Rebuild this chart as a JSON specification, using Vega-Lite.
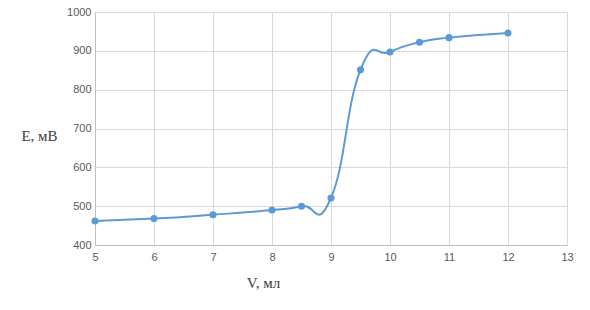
{
  "$schema": "https://vega.github.io/schema/vega-lite/v6.json",
  "autosize": "none",
  "width": 472,
  "height": 233,
  "padding": {"left": 95, "top": 12, "right": 23, "bottom": 65},
  "background": "white",
  "config": {"view": {"stroke": null}},
  "data": {"values": [
    {"V": 5, "E": 462},
    {"V": 6, "E": 468},
    {"V": 7, "E": 478},
    {"V": 8, "E": 490},
    {"V": 8.5, "E": 500},
    {"V": 9, "E": 521},
    {"V": 9.5, "E": 851},
    {"V": 10, "E": 897},
    {"V": 10.5, "E": 922},
    {"V": 11, "E": 934},
    {"V": 12, "E": 946}
  ]},
  "encoding": {
    "x": {"field": "V", "type": "quantitative",
      "scale": {"domain": [5, 13], "nice": false, "zero": false},
      "axis": {"values": [5,6,7,8,9,10,11,12,13], "title": "V, мл", "grid": true, "gridColor": "#d9d9d9",
        "domainColor": "#bfbfbf", "ticks": false, "labelPadding": 6, "labelFlush": false,
        "labelFont": "Liberation Sans", "labelFontSize": 11, "labelColor": "#595959",
        "titleFont": "Liberation Serif", "titleFontSize": 15, "titleFontWeight": "normal", "titleColor": "#404040",
        "titleX": 168, "titleY": 37, "titleBaseline": "middle", "titleAnchor": null}},
    "y": {"field": "E", "type": "quantitative",
      "scale": {"domain": [400, 1000], "nice": false, "zero": false},
      "axis": {"values": [400,500,600,700,800,900,1000], "format": "d", "title": "E, мВ", "grid": true, "gridColor": "#d9d9d9",
        "domainColor": "#bfbfbf", "ticks": false, "labelPadding": 4, "labelFlush": false,
        "labelFont": "Liberation Sans", "labelFontSize": 11, "labelColor": "#595959",
        "titleFont": "Liberation Serif", "titleFontSize": 15, "titleFontWeight": "normal", "titleColor": "#404040",
        "titleAngle": 0, "titleX": -56, "titleY": 123, "titleAlign": "center", "titleBaseline": "middle"}}
  },
  "layer": [
    {"mark": {"type": "line", "interpolate": "cardinal", "tension": -0.5, "color": "#5b9bd5", "strokeWidth": 2}},
    {"mark": {"type": "point", "filled": true, "opacity": 1, "color": "#5b9bd5", "size": 50}}
  ]
}
